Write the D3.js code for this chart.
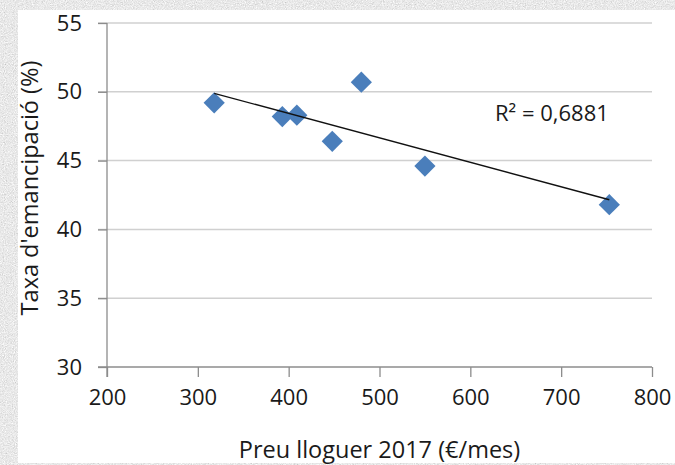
<!DOCTYPE html>
<html>
<head>
<meta charset="utf-8">
<script src="https://cdn.jsdelivr.net/npm/d3@7"></script>
<style>
  html, body { margin: 0; padding: 0; background: #d2d2d2; }
  svg { display: block; }
  text { font-family: "Open Sans", sans-serif; fill: #1a1a1a; }
</style>
</head>
<body>
<script>
// data
var rent = [318, 393, 409, 448, 480, 550, 753]
var emancipation = [49.2, 48.2, 48.3, 46.4, 50.7, 44.6, 41.8]
var xTicks = [200, 300, 400, 500, 600, 700, 800]
var yTicks = [30, 35, 40, 45, 50, 55]
var xTitle = "Preu lloguer 2017 (€/mes)"
var yTitle = "Taxa d'emancipació (%)"
var r2Label = "R² = 0,6881"

var W = 675, H = 465
var margin = {top: 23, right: 23, bottom: 98, left: 107}
var width = 652 - margin.left
var height = 367 - margin.top

var svg = d3.select("body").append("svg")
  .attr("width", W)
  .attr("height", H)

// stone-like background texture
var defs = svg.append("defs")
var f = defs.append("filter").attr("id", "stone").attr("x", 0).attr("y", 0).attr("width", "100%").attr("height", "100%")
f.append("feTurbulence").attr("type", "fractalNoise").attr("baseFrequency", 0.9).attr("numOctaves", 3).attr("seed", 7)
f.append("feColorMatrix").attr("type", "matrix")
  .attr("values", "0.3 0.3 0.3 0 0.36  0.3 0.3 0.3 0 0.36  0.3 0.3 0.3 0 0.36  0 0 0 0 1")

svg.append("rect").attr("width", W).attr("height", H).attr("fill", "#cdcdcd")
svg.append("rect").attr("width", W).attr("height", H).attr("fill", "#cdcdcd").attr("filter", "url(#stone)")

// white panel
svg.append("rect")
  .attr("x", 18).attr("y", 10)
  .attr("width", W - 18).attr("height", 453)
  .attr("fill", "#fff")

var g = svg.append("g")
  .attr("transform", "translate(" + margin.left + "," + margin.top + ")")

//Scales
var x = d3.scaleLinear().domain([200, 800]).range([0, width])
var y = d3.scaleLinear().domain([30, 55]).range([height, 0])

// gridlines
g.append("g")
  .selectAll("line")
  .data(yTicks.filter(function(d) { return d > 30 }))
  .enter().append("line")
  .attr("x1", -9).attr("x2", width)
  .attr("y1", function(d) { return y(d) }).attr("y2", function(d) { return y(d) })
  .attr("stroke", "#d0d0d0")
  .attr("stroke-width", 1.5)

// axes
var yAxis = g.append("g")
  .call(d3.axisLeft(y).tickValues(yTicks).tickSize(9).tickPadding(8).tickFormat(d3.format("d")))
yAxis.select(".domain").attr("d", "M0,0V" + (height + 10)).attr("stroke", "#8c8c8c").attr("stroke-width", 1.3)
yAxis.selectAll(".tick line").attr("stroke", "#8c8c8c").attr("stroke-width", 1.3)
yAxis.selectAll(".tick text").attr("font-size", 22).attr("font-family", "Open Sans").attr("fill", "#1a1a1a").attr("dx", "-8")

var xAxis = g.append("g")
  .attr("transform", "translate(0," + height + ")")
  .call(d3.axisBottom(x).tickValues(xTicks).tickSize(10).tickPadding(12).tickFormat(d3.format("d")))
xAxis.select(".domain").attr("d", "M-9,0H" + width).attr("stroke", "#8c8c8c").attr("stroke-width", 1.3)
xAxis.selectAll(".tick line").attr("stroke", "#8c8c8c").attr("stroke-width", 1.3)
xAxis.selectAll(".tick text").attr("font-size", 22).attr("font-family", "Open Sans").attr("fill", "#1a1a1a")

// points
var data = rent.map(function(r, i) { return {x: r, y: emancipation[i]} })

// linear trendline (least squares)
var mx = d3.mean(data, function(d) { return d.x })
var my = d3.mean(data, function(d) { return d.y })
var slope = d3.sum(data, function(d) { return (d.x - mx) * (d.y - my) }) /
            d3.sum(data, function(d) { return (d.x - mx) * (d.x - mx) })
var x0 = d3.min(rent), x1 = d3.max(rent)
var trend = [{x: x0, y: my + slope * (x0 - mx)}, {x: x1, y: my + slope * (x1 - mx)}]

g.selectAll(".pt")
  .data(data)
  .enter().append("path")
  .attr("class", "pt")
  .attr("d", d3.symbol().type(d3.symbolSquare).size(225))
  .attr("transform", function(d) { return "translate(" + x(d.x) + "," + y(d.y) + ") rotate(45)" })
  .attr("fill", "#4a7ebb")

g.append("path")
  .datum(trend)
  .attr("d", d3.line().x(function(d) { return x(d.x) }).y(function(d) { return y(d.y) }))
  .attr("stroke", "#111")
  .attr("stroke-width", 1.4)
  .attr("fill", "none")

// labels
svg.append("text")
  .attr("x", 495).attr("y", 121)
  .attr("font-size", 22)
  .text(r2Label)

svg.append("text")
  .attr("x", margin.left + width / 2).attr("y", 458)
  .attr("text-anchor", "middle")
  .attr("font-size", 23.5)
  .text(xTitle)

svg.append("text")
  .attr("transform", "translate(38,188) rotate(-90)")
  .attr("text-anchor", "middle")
  .attr("font-size", 23.5)
  .text(yTitle)
</script>
</body>
</html>
